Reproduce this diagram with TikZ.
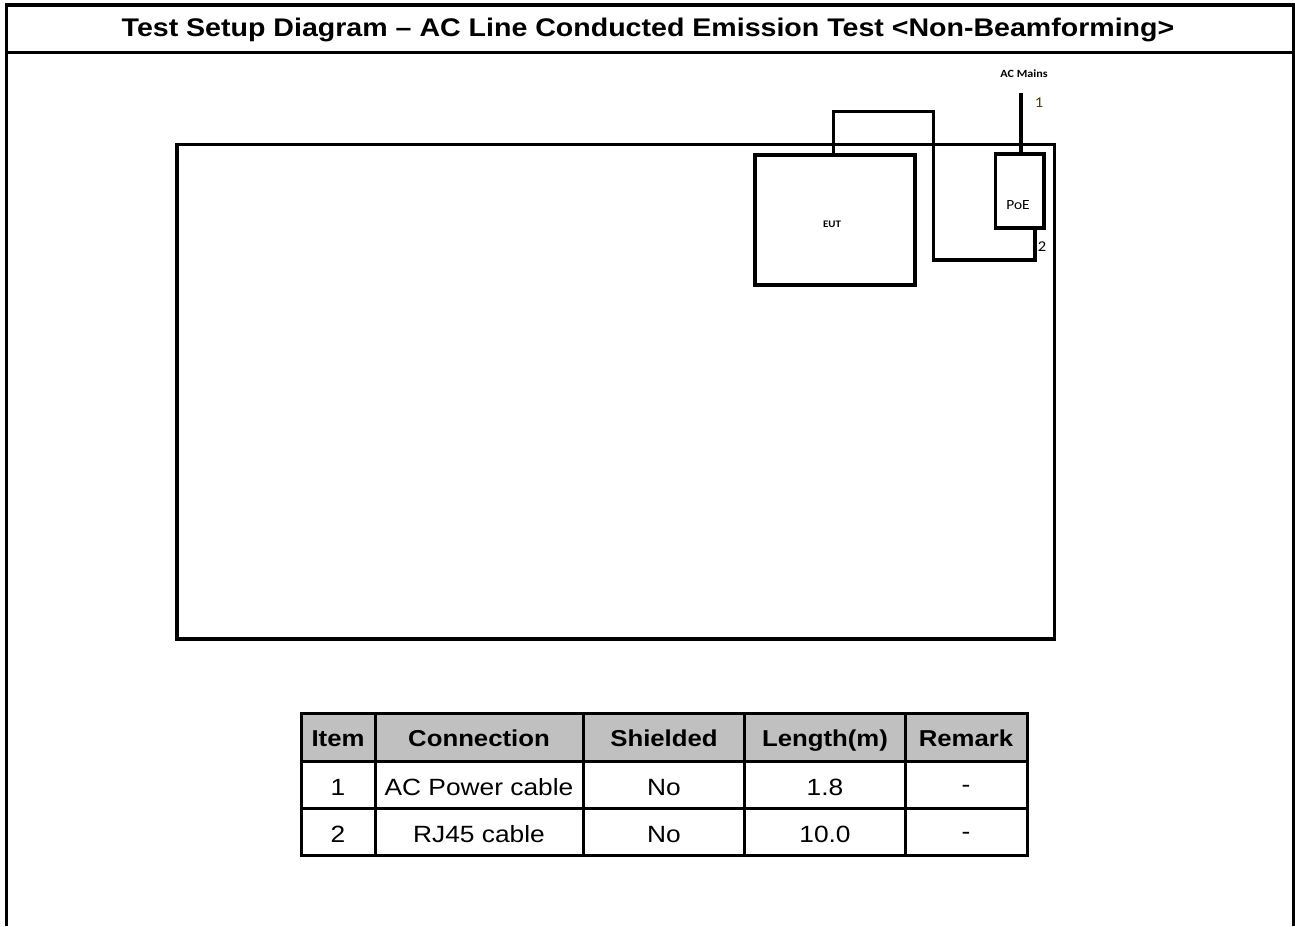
\documentclass[tikz,border=0pt]{standalone}
\usepackage{fontspec}
\setmainfont{Liberation Sans}
\newfontfamily\arialx[FakeStretch=1.12]{Liberation Sans}
\newfontfamily\calibx[FakeStretch=1.1]{Carlito}
\usetikzlibrary{calc}
\definecolor{hdrgray}{HTML}{C0C0C0}
\definecolor{numbrown}{HTML}{4A3A10}
\begin{document}
\begin{tikzpicture}[x=1pt,y=-1pt,
  frame/.style={line width=3.3pt},
  sep/.style={line width=2.5pt},
  box/.style={draw,line width=3.6pt,inner sep=0pt,outer sep=0pt,rectangle},
  cable/.style={line width=3.6pt},
  grid/.style={line width=3pt},
  title/.style={font=\arialx\bfseries\fontsize{25.5}{28}\selectfont},
  hdr/.style={anchor=base,inner sep=0pt,font=\arialx\bfseries\fontsize{23}{26}\selectfont},
  cell/.style={anchor=base,inner sep=0pt,font=\arialx\fontsize{23.5}{26}\selectfont},
  small/.style={font=\calibx\fontsize{11}{13}\selectfont},
  smallb/.style={font=\calibx\bfseries\fontsize{10}{12}\selectfont},
  num/.style={inner sep=0pt,font=\calibx\fontsize{15}{17}\selectfont}
]
\useasboundingbox (0,0) rectangle (1295,926);
% outer frame
\coordinate (bl) at (6.5,926);
\coordinate (br) at (1293.5,926);
\draw[frame] (bl) -- (6.5,5) -- (1293.5,5) -- (br);
\coordinate (sl) at (6.5,52.5);
\coordinate (sr) at (1293.5,52.5);
\draw[sep] (sl) -- (sr);
\node[title] (ttl) at (648,30) {Test Setup Diagram – AC Line Conducted Emission Test <Non-Beamforming>};

% ground plane
\node[box,minimum width=877.5pt,minimum height=494.5pt] (plane) at (615.75,391.75) {};
% EUT
\node[box,minimum width=160pt,minimum height=130pt] (eut) at (835,220) {};
\node[smallb] (eutl) at (832,224) {EUT};
% PoE
\node[box,minimum width=48.5pt,minimum height=74pt] (poe) at (1019.75,191) {};
\node[small,font=\calibx\fontsize{14}{16}\selectfont] (poel) at (1018,205) {PoE};
% AC mains
\coordinate (acm) at (1021,93);
\node[smallb,font=\calibx\bfseries\fontsize{11}{13}\selectfont] (acml) at (1024,74) {AC Mains};
\draw[cable] (acm) -- (acm |- poe.north);
\node[num,text=numbrown] (n1) at (1039,103) {1};
% cable 2
\coordinate (c1) at (833.5,111.5);
\coordinate (c2) at (933.5,260);
\coordinate (p2) at ([xshift=15.25pt]poe.south);
\draw[cable] (eut.north -| c1) -- (c1) -| (c2) -| (p2);
\node[num] (n2) at (1042,247) {2};

% cable table
\fill[hdrgray] (301.5,713.5) rectangle (1027.5,761);
\draw[grid] (301.5,761) -- (1027.5,761);
\draw[grid] (301.5,808) -- (1027.5,808);
\foreach \x in {375,583.5,744.5,905} \draw[grid] (\x,713.5) -- (\x,855.5);
\draw[line width=3.4pt] (301.5,713.5) rectangle (1027.5,855.5);
\node[hdr] (h1) at (338,746) {Item};
\node[hdr] (h2) at (479,746) {Connection};
\node[hdr] (h3) at (664,746) {Shielded};
\node[hdr] (h4) at (825,746) {Length(m)};
\node[hdr] (h5) at (966,746) {Remark};
\node[cell] (a1) at (338,795) {1};
\node[cell] (a2) at (479,795) {AC Power cable};
\node[cell] (a3) at (664,795) {No};
\node[cell] (a4) at (825,795) {1.8};
\node[cell] (a5) at (966,792) {-};
\node[cell] (b1) at (338,842) {2};
\node[cell] (b2) at (479,842) {RJ45 cable};
\node[cell] (b3) at (664,842) {No};
\node[cell] (b4) at (825,842) {10.0};
\node[cell] (b5) at (966,839) {-};
\end{tikzpicture}
\end{document}
